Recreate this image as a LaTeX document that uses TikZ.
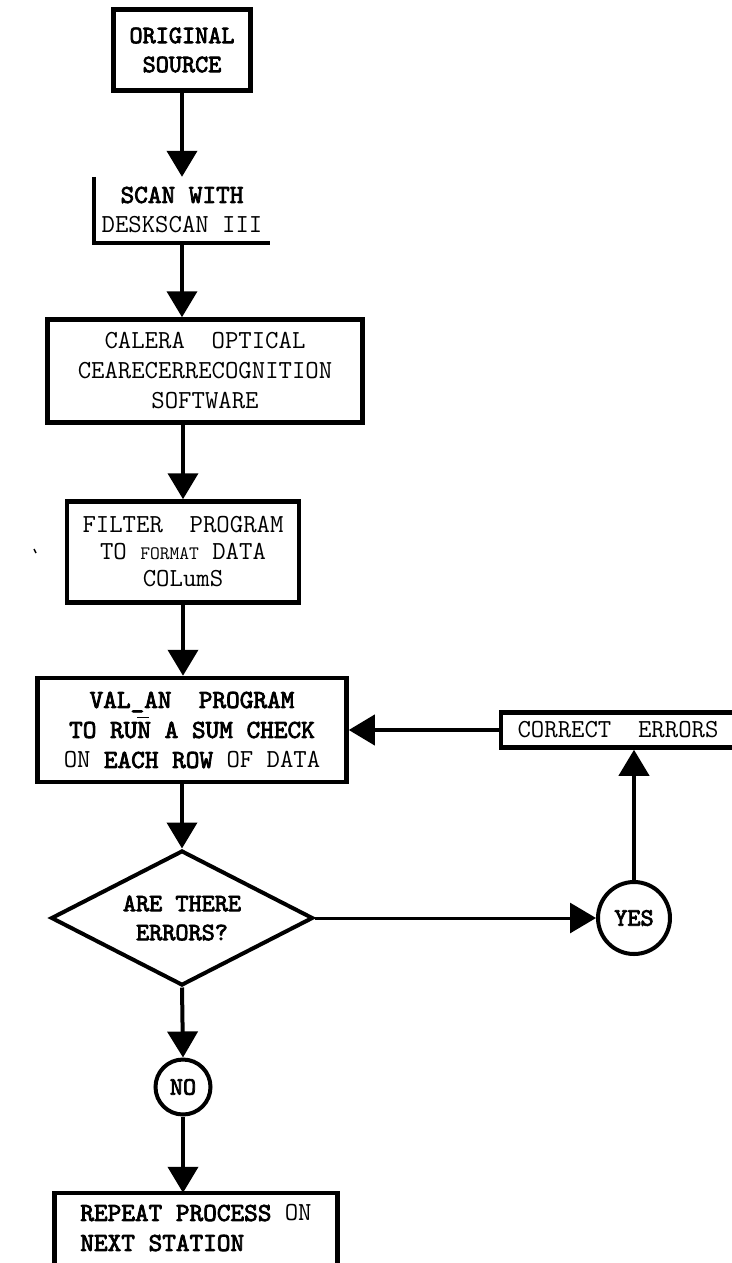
\documentclass[tikz,border=0pt]{standalone}
\usepackage{fontspec}
\usetikzlibrary{arrows.meta,shapes.geometric}
\newfontfamily\heavytt[FakeBold=3]{lmmono10-regular.otf}
\newcommand{\flowfont}{\ttfamily\fontsize{26}{30}\selectfont}
\newcommand{\flowbold}{\heavytt\fontsize{25}{29}\selectfont}
\begin{document}
\begin{tikzpicture}[x=1pt,y=-1pt,
    box/.style={draw,line width=4.5pt,inner sep=0pt,align=center,font=\flowfont},
    plain/.style={inner sep=0pt,align=center,font=\flowfont},
    edge/.style={line width=4.5pt},
    flow/.style={line width=4pt,-{Triangle[width=30pt,length=26pt]}},
    decision/.style={diamond,draw,line width=4pt,aspect=2,inner sep=0pt,
        minimum width=262pt,minimum height=135pt,align=center,font=\flowbold},
    answer/.style={circle,draw,line width=4pt,inner sep=0pt,font=\flowbold}]
    \useasboundingbox (0,0) rectangle (731,1263);
    %boxes of the main column
    \node[box,minimum width=137pt,minimum height=81pt,font=\flowbold] (src) at (182,50) {ORIGINAL\\SOURCE};
    \node[plain,minimum width=176pt,minimum height=66pt] (scan) at (182,210) {{\heavytt SCAN WITH}\\DESKSCAN III};
    \draw[edge] (scan.north west) -- (scan.south west) -- (scan.south east);
    \node[box,minimum width=315pt,minimum height=103pt] (ocr) at (205,371) {CALERA\ \ OPTICAL\\CEARECERRECOGNITION\\SOFTWARE};
    \node[box,minimum width=232pt,minimum height=101pt,font=\ttfamily\fontsize{26}{27}\selectfont] (filt) at (183,552)
        {FILTER\ \ PROGRAM\\TO {\fontsize{19}{27}\selectfont FORMAT} DATA\\COLumS};
    \draw[line width=1.5pt] (34,549) -- (36,553);
    \node[box,minimum width=309pt,minimum height=104pt] (val) at (192,730)
        {{\heavytt VAL\_AN\ \ PROGRAM}\\{\heavytt TO RU\rlap{\rule[0.75em]{0.45em}{1.5pt}}N A SUM CHECK}\\ON {\heavytt EACH ROW} OF DATA};
    %check
    \node[decision] (dec) at (182,918) {ARE THERE\\ERRORS?};
    \node[answer,minimum size=72pt] (yes) at (634,918) {YES};
    \node[answer,minimum size=55pt] (no) at (183,1087) {NO};
    \node[box,minimum width=234pt,minimum height=35pt] (fix) at (618,730) {CORRECT\ \ ERRORS};
    %last box
    \node[plain,minimum width=283pt,minimum height=70pt,align=left] (rep) at (196,1228)
        {{\heavytt REPEAT PROCESS} ON\\{\heavytt NEXT STATION}};
    \draw[edge] (rep.south west) -- (rep.north west) -- (rep.north east) -- (rep.south east);
    %connectors
    \draw[flow] (src.south) -- (scan.north);
    \draw[flow] (scan.south) -- (scan.south |- ocr.north);
    \draw[flow] (ocr.south -| filt.north) -- (filt.north);
    \draw[flow] (filt.south) -- (filt.south |- val.north);
    \draw[flow] (val.south -| dec.north) -- (dec.north);
    \draw[flow] (dec.south) -- (no.north);
    \draw[flow] (no.south) -- (no.south |- rep.north);
    \draw[flow,line width=3pt] (dec.east) -- (yes.west);
    \draw[flow] (yes.north) -- (yes.north |- fix.south);
    \draw[flow] (fix.west) -- (fix.west -| val.east);
\end{tikzpicture}
\end{document}
